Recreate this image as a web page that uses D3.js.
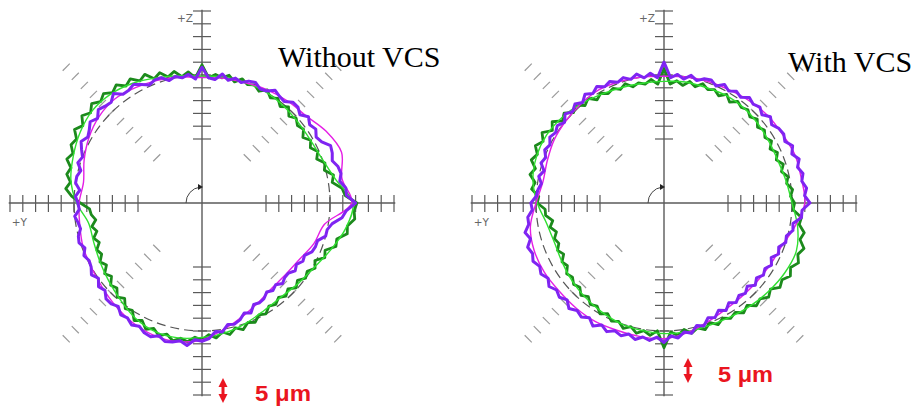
<!DOCTYPE html>
<html><head><meta charset="utf-8">
<script src="https://cdn.jsdelivr.net/npm/d3@7"></script>
<style>body{margin:0;background:#fff}svg{display:block}</style>
</head><body><svg id="c" width="913" height="408"></svg>
<script>
// ---------- data ----------
const titles = ["Without VCS", "With VCS"];
const axisLabels = ["+Z", "+Y"];
const scaleLabel = "5 \u03bcm";
const ringTicks = [50, 60, 70, 80, 90, 100, 110, 120, 130, 140, 150]; // radial tick values
const noisyAngles = d3.range(0, 360, 3);   // sample angles (deg, ccw from +x)
const smoothAngles = d3.range(0, 360, 10);
const refRadius = [100, 100];

// left panel (Without VCS)
const leftPurple = [120,113,113,109,111,110,107,109,110,105,
  103,106,104,107,103,106,106,102,103,105,
  101,100,103,102,99,101,98,102,97,98,
  106,97,101,99,101,99,103,103,101,104,
  107,105,105,110,106,107,109,105,108,105,
  103,106,103,100,102,98,100,100,96,99,
  97,96,100,98,97,100,101,98,101,99,
  100,103,100,104,102,106,106,104,108,107,
  110,108,111,112,109,112,111,109,112,107,
  108,106,101,102,97,98,96,92,94,89,
  90,89,86,88,86,89,87,87,90,88,
  91,90,94,95,95,100,100,103,110,113];
const leftGreen = [121,112,110,103,105,99,101,96,99,95,
  98,94,98,96,99,96,101,97,101,98,
  102,98,101,99,102,98,102,99,101,98,
  108,98,103,100,105,102,107,104,110,107,
  112,109,114,111,115,112,116,112,116,111,
  115,110,112,108,111,106,108,104,107,102,
  95,88,87,84,88,85,89,86,90,88,
  92,89,94,91,96,94,99,96,102,100,
  106,103,108,105,109,106,110,107,109,105,
  107,103,106,102,105,101,104,100,102,98,
  100,96,98,95,98,95,99,96,100,98,
  102,99,105,103,110,109,116,115,120,119];
const leftMagenta = [117,111,116,112,106,104,102,100,99,98,100,102,104,106,105,102,98,94,
  96,97,99,100,102,105,108,110,110,107,100,94,89,86,86,88,93,97];
const leftLime = [118,106,100,98,98,99,100,100,100,99,101,104,108,111,112,110,107,104,
  98,90,90,92,95,99,104,107,107,105,103,100,97,96,98,101,107,114];

// right panel (With VCS)
const rightPurple = [114,110,112,109,111,108,111,107,110,106,
  108,107,104,107,103,106,104,106,102,104,
  101,104,100,103,102,99,102,98,101,98,
  110,98,102,99,103,100,103,101,104,102,
  105,102,105,101,104,101,104,100,103,101,
  103,100,102,99,101,97,100,97,99,100,
  104,103,107,107,111,108,112,110,112,109,
  111,108,111,108,110,107,111,108,110,107,
  111,107,110,107,109,106,109,106,108,105,
  109,104,106,102,104,99,101,96,98,94,
  97,93,96,93,95,92,96,93,96,94,
  97,94,98,96,100,99,103,102,108,108];
const rightGreen = [102,99,101,97,99,95,98,94,97,93,
  97,94,97,94,98,95,98,96,98,94,
  98,94,97,95,98,94,97,93,96,93,
  105,93,97,94,96,94,98,95,98,96,
  99,96,101,98,103,100,105,102,108,104,
  110,106,110,106,109,104,107,102,104,98,
  99,93,93,88,91,87,90,88,91,88,
  92,90,94,92,95,93,97,94,98,96,
  100,97,101,99,103,100,104,101,104,100,
  113,101,104,100,104,101,104,100,104,101,
  104,102,106,103,108,106,110,107,112,110,
  114,111,115,112,115,110,112,107,108,101];
const rightMagenta = [110,109,109,107,106,104,102,101,100,99,100,101,102,101,100,99,97,96,
  100,106,108,108,107,107,107,106,106,106,103,99,96,95,95,96,98,104];
const rightLime = [100,97,95,95,96,97,97,96,96,95,95,96,98,101,104,106,106,104,
  99,93,91,92,94,96,98,100,101,102,102,102,103,105,107,109,110,106];

// ---------- layout / style ----------
const W = 913, H = 408;
const panels = [
  {cx: 202, cy: 203, title: titles[0], tx: 278, ty: 67, ref: refRadius[0],
   noisy: [leftGreen, leftPurple], smooth: [leftLime, leftMagenta],
   arrowX: 21, arrowY1: 175, arrowY2: 200, lblX: 53, lblY: 198, lblW: 56},
  {cx: 664, cy: 203, title: titles[1], tx: 788, ty: 72, ref: refRadius[1],
   noisy: [rightGreen, rightPurple], smooth: [rightLime, rightMagenta],
   arrowX: 24, arrowY1: 155, arrowY2: 180, lblX: 54, lblY: 179, lblW: 55}
];
const C = {purple: "#7f24f2", green: "#1c8a1c", lime: "#30e030", magenta: "#e51ee5",
           axis: "#5a5a5a", diag: "#9a9a9a", ref: "#555", red: "#ea1520"};

const svg = d3.select("#c");
svg.append("rect").attr("width", W).attr("height", H).attr("fill", "#fff");

const rScale = d3.scaleLinear().domain([0, 150]).range([0, 192]);
const aScale = d3.scaleLinear().domain([0, 360]).range([Math.PI / 2, Math.PI / 2 - 2 * Math.PI]);
const px = (a, r) => rScale(r) * Math.sin(aScale(a));
const py = (a, r) => -rScale(r) * Math.cos(aScale(a));

const lineNoisy = d3.lineRadial().angle(d => aScale(d[0])).radius(d => rScale(d[1]))
  .curve(d3.curveLinearClosed);
const lineSmooth = d3.lineRadial().angle(d => aScale(d[0])).radius(d => rScale(d[1]))
  .curve(d3.curveCatmullRomClosed.alpha(0.5));

panels.forEach(p => {
  const g = svg.append("g").attr("transform", `translate(${p.cx},${p.cy})`);
  const ext = 151;

  // diagonal tick marks (no axis line)
  [45, 135, 225, 315].forEach(a => {
    ringTicks.forEach(v => {
      const x = px(a, v), y = py(a, v);
      const pa = a + 90;
      const dx = 5 * Math.cos(pa * Math.PI / 180), dy = -5 * Math.sin(pa * Math.PI / 180);
      g.append("line").attr("x1", x - dx).attr("y1", y - dy).attr("x2", x + dx).attr("y2", y + dy)
        .attr("stroke", C.diag).attr("stroke-width", 1.2);
    });
  });

  // main axes
  g.append("line").attr("x1", px(180, ext)).attr("y1", 0).attr("x2", px(0, ext)).attr("y2", 0)
    .attr("stroke", C.axis).attr("stroke-width", 1.4);
  g.append("line").attr("x1", 0).attr("y1", py(90, ext)).attr("x2", 0).attr("y2", py(270, ext))
    .attr("stroke", C.axis).attr("stroke-width", 1.4);
  [0, 90, 180, 270].forEach(a => {
    ringTicks.forEach(v => {
      const x = px(a, v), y = py(a, v);
      const horiz = (a === 0 || a === 180);
      g.append("line")
        .attr("x1", horiz ? x : x - 9).attr("x2", horiz ? x : x + 9)
        .attr("y1", horiz ? y - 8 : y).attr("y2", horiz ? y + 9 : y)
        .attr("stroke", C.axis).attr("stroke-width", 1.2);
    });
  });

  // axis labels
  g.append("text").attr("x", -9).attr("y", py(90, ext) + 12).attr("text-anchor", "end")
    .attr("font-family", "DejaVu Sans, Arial, sans-serif").attr("font-size", 10.5)
    .attr("fill", "#666").text(axisLabels[0]);
  g.append("text").attr("x", px(180, ext) + 3).attr("y", 23)
    .attr("font-family", "DejaVu Sans, Arial, sans-serif").attr("font-size", 10.5)
    .attr("fill", "#666").text(axisLabels[1]);

  // rotation arrow
  g.append("path").attr("d", "M -16 0 A 16 16 0 0 1 -2 -15.9")
    .attr("fill", "none").attr("stroke", "#444").attr("stroke-width", 1);
  g.append("path").attr("d", "M -4 -19 L 1 -16 L -4 -13 Z").attr("fill", "#222");

  // reference circle
  g.append("circle").attr("r", rScale(p.ref)).attr("fill", "none")
    .attr("stroke", C.ref).attr("stroke-width", 1.2).attr("stroke-dasharray", "9,5");

  // traces
  const mk = (arr, angles) => arr.map((v, i) => [angles[i], v]);
  g.append("path").attr("d", lineNoisy(mk(p.noisy[0], noisyAngles)))
    .attr("fill", "none").attr("stroke", C.green).attr("stroke-width", 2.8).attr("stroke-linejoin", "round");
  g.append("path").attr("d", lineSmooth(mk(p.smooth[0], smoothAngles)))
    .attr("fill", "none").attr("stroke", C.lime).attr("stroke-width", 1.4);
  g.append("path").attr("d", lineSmooth(mk(p.smooth[1], smoothAngles)))
    .attr("fill", "none").attr("stroke", C.magenta).attr("stroke-width", 1.4);
  g.append("path").attr("d", lineNoisy(mk(p.noisy[1], noisyAngles)))
    .attr("fill", "none").attr("stroke", C.purple).attr("stroke-width", 3).attr("stroke-linejoin", "round");

  // scale marker
  const ax = p.arrowX;
  g.append("line").attr("x1", ax).attr("x2", ax).attr("y1", p.arrowY1 + 6).attr("y2", p.arrowY2 - 6)
    .attr("stroke", C.red).attr("stroke-width", 3);
  g.append("path").attr("d", `M ${ax - 4.5} ${p.arrowY1 + 9} L ${ax} ${p.arrowY1} L ${ax + 4.5} ${p.arrowY1 + 9} Z`)
    .attr("fill", C.red);
  g.append("path").attr("d", `M ${ax - 4.5} ${p.arrowY2 - 9} L ${ax} ${p.arrowY2} L ${ax + 4.5} ${p.arrowY2 - 9} Z`)
    .attr("fill", C.red);
  g.append("text").attr("x", p.lblX).attr("y", p.lblY)
    .attr("font-family", "Liberation Sans, Arial, sans-serif").attr("font-size", 22)
    .attr("font-weight", "bold").attr("textLength", p.lblW).attr("lengthAdjust", "spacingAndGlyphs")
    .attr("fill", C.red).text(scaleLabel);

  // title
  svg.append("text").attr("x", p.tx).attr("y", p.ty)
    .attr("font-family", "Liberation Serif, Times New Roman, serif").attr("font-size", 30)
    .attr("fill", "#000").text(p.title);
});
</script></body></html>
